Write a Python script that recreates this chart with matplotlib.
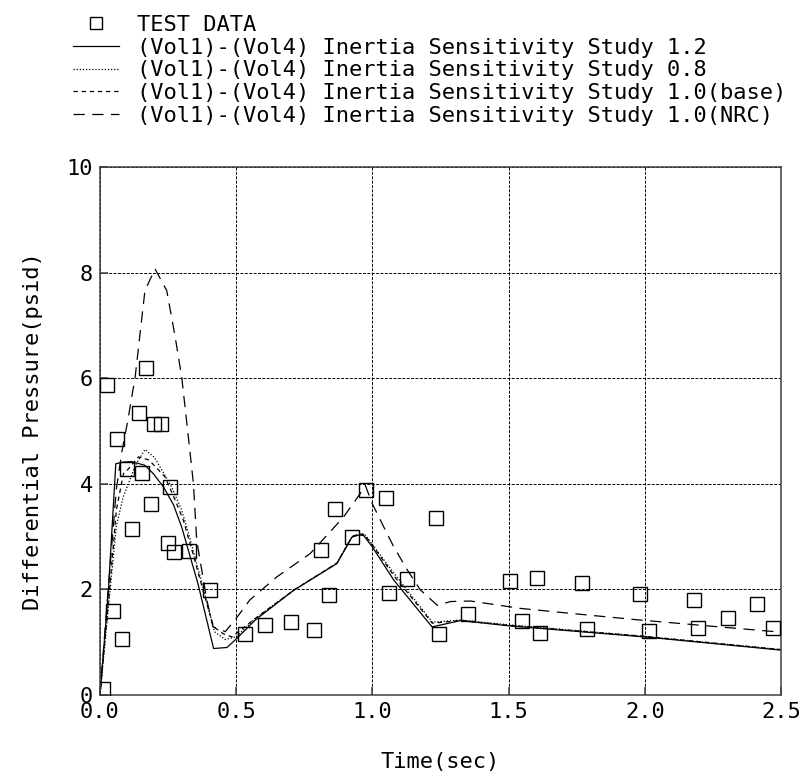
import numpy as np
import matplotlib
matplotlib.use('Agg')
import matplotlib.pyplot as plt

''' DATA '''

# test data points (time in sec, differential pressure in psid)
test_t = [0.01, 0.026, 0.048, 0.063, 0.08, 0.099, 0.119, 0.142, 0.153, 0.168,
          0.186, 0.200, 0.224, 0.248, 0.256, 0.271, 0.325, 0.402, 0.531, 0.604,
          0.703, 0.784, 0.811, 0.841, 0.864, 0.925, 0.977, 1.050, 1.061, 1.128,
          1.232, 1.246, 1.350, 1.505, 1.549, 1.605, 1.614, 1.771, 1.789, 1.982,
          2.016, 2.179, 2.196, 2.304, 2.411, 2.472]
test_p = [0.11, 5.87, 1.59, 4.84, 1.06, 4.28, 3.15, 5.35, 4.21, 6.19,
          3.61, 5.13, 5.13, 2.88, 3.94, 2.70, 2.73, 1.99, 1.15, 1.32,
          1.38, 1.24, 2.74, 1.89, 3.52, 2.99, 3.89, 3.73, 1.94, 2.19,
          3.36, 1.15, 1.53, 2.16, 1.41, 2.22, 1.18, 2.12, 1.25, 1.92,
          1.22, 1.79, 1.27, 1.46, 1.73, 1.27]

# inertia 1.2 (solid)
t_12 = [0, 0.031, 0.058, 0.085, 0.116, 0.165, 0.196, 0.233, 0.27, 0.30, 0.36,
        0.417, 0.466, 0.502, 0.57, 0.71, 0.87, 0.925, 0.95, 0.968, 0.999, 1.078,
        1.219, 1.324, 1.5, 2.0, 2.5]
p_12 = [0, 1.99, 4.38, 4.41, 4.42, 4.35, 4.19, 3.94, 3.6, 3.18, 2.1,
        0.88, 0.90, 1.07, 1.42, 1.98, 2.49, 2.99, 3.03, 3.02, 2.81, 2.18,
        1.29, 1.41, 1.31, 1.10, 0.85]

# inertia 0.8 (dotted)
t_08 = [0, 0.037, 0.06, 0.085, 0.104, 0.13, 0.165, 0.2, 0.227, 0.263, 0.30,
        0.325, 0.37, 0.42, 0.46, 0.5, 0.57, 0.71, 0.87, 0.925, 0.95, 0.97, 1.0,
        1.08, 1.22, 1.324, 1.5, 2.0, 2.5]
p_08 = [0, 1.99, 3.2, 3.75, 4.0, 4.35, 4.65, 4.5, 4.26, 3.94, 3.5,
        3.06, 2.2, 1.2, 1.05, 1.1, 1.45, 1.98, 2.5, 3.0, 3.05, 3.05, 2.85,
        2.3, 1.38, 1.42, 1.33, 1.11, 0.86]

# inertia 1.0 base (short dash)
t_10 = [0, 0.035, 0.06, 0.086, 0.104, 0.141, 0.18, 0.239, 0.276, 0.306, 0.34,
        0.38, 0.417, 0.453, 0.484, 0.509, 0.57, 0.71, 0.87, 0.925, 0.95, 0.97,
        1.0, 1.08, 1.22, 1.324, 1.5, 2.0, 2.5]
p_10 = [0, 1.99, 3.5, 4.19, 4.28, 4.51, 4.45, 4.13, 3.69, 3.31, 2.7,
        1.95, 1.29, 1.16, 1.10, 1.2, 1.45, 1.98, 2.5, 3.0, 3.05, 3.04,
        2.84, 2.25, 1.36, 1.41, 1.32, 1.11, 0.86]

# inertia 1.0 NRC (long dash)
t_nrc = [0, 0.03, 0.06, 0.08, 0.1, 0.129, 0.165, 0.202, 0.245, 0.276, 0.30,
         0.319, 0.343, 0.355, 0.392, 0.415, 0.46, 0.5, 0.55, 0.65, 0.772, 0.894,
         0.956, 0.974, 0.999, 1.042, 1.078, 1.128, 1.176, 1.238, 1.287, 1.36,
         1.544, 1.74, 1.961, 2.206, 2.5]
p_nrc = [0, 2.0, 3.9, 4.6, 5.14, 6.02, 7.66, 8.07, 7.66, 6.78, 6.02,
         5.14, 4.0, 2.93, 1.8, 1.29, 1.2, 1.45, 1.8, 2.24, 2.68, 3.37,
         3.82, 3.97, 3.63, 3.18, 2.81, 2.37, 1.99, 1.70, 1.77, 1.78,
         1.64, 1.54, 1.43, 1.32, 1.19]

labels = ['TEST DATA',
          '(Vol1)-(Vol4) Inertia Sensitivity Study 1.2',
          '(Vol1)-(Vol4) Inertia Sensitivity Study 0.8',
          '(Vol1)-(Vol4) Inertia Sensitivity Study 1.0(base)',
          '(Vol1)-(Vol4) Inertia Sensitivity Study 1.0(NRC)']

x_ticks = [0.0, 0.5, 1.0, 1.5, 2.0, 2.5]
y_ticks = [0, 2, 4, 6, 8, 10]

''' PLOTTING '''

plt.rcParams['font.family'] = ['DejaVu Sans Mono']
plt.rcParams['font.size'] = 15.8

fig = plt.figure(figsize=(8.04, 7.78), dpi=100)
ax = fig.add_axes([100 / 804, 83 / 778, 681 / 804, 528 / 778])

h0, = ax.plot(test_t, test_p, ls='none', marker='s', ms=10, mfc='none',
              mec='black', mew=1.0, label=labels[0], zorder=3)
h1, = ax.plot(t_12, p_12, color='black', lw=0.9, label=labels[1])
h2, = ax.plot(t_08, p_08, color='black', lw=0.9, ls=(0, (1, 1.5)), label=labels[2])
h3, = ax.plot(t_10, p_10, color='black', lw=0.9, ls=(0, (3.5, 3)), label=labels[3])
h4, = ax.plot(t_nrc, p_nrc, color='black', lw=0.9, ls=(0, (9, 6)), label=labels[4])

ax.set_xlim(0, 2.5)
ax.set_ylim(0, 10)
ax.set_xticks(x_ticks)
ax.set_xticklabels(['%.1f' % v for v in x_ticks])
ax.set_yticks(y_ticks)
ax.set_yticklabels([str(v) for v in y_ticks])

ax.grid(True, color='black', lw=0.7, ls=(0, (3, 1.5)))
ax.tick_params(direction='in', length=6, width=1.1, pad=5, color='#404040')
for s in ax.spines.values():
    s.set_color('#404040')
    s.set_linewidth(1.1)

ax.set_xlabel('Time(sec)')
ax.set_ylabel('Differential Pressure(psid)')
ax.xaxis.set_label_coords(0.5, -0.108)
ax.yaxis.set_label_coords(-0.084, 0.5)

# legend sits above the axes, no frame
fig.legend(handles=[h0, h1, h2, h3, h4], loc='upper left',
           bbox_to_anchor=(62 / 804, 1 - 4 / 778), frameon=False,
           borderpad=0, handlelength=2.1, handletextpad=0.8,
           labelspacing=0.12, markerscale=0.85)

fig.savefig('out.png', dpi=100)
